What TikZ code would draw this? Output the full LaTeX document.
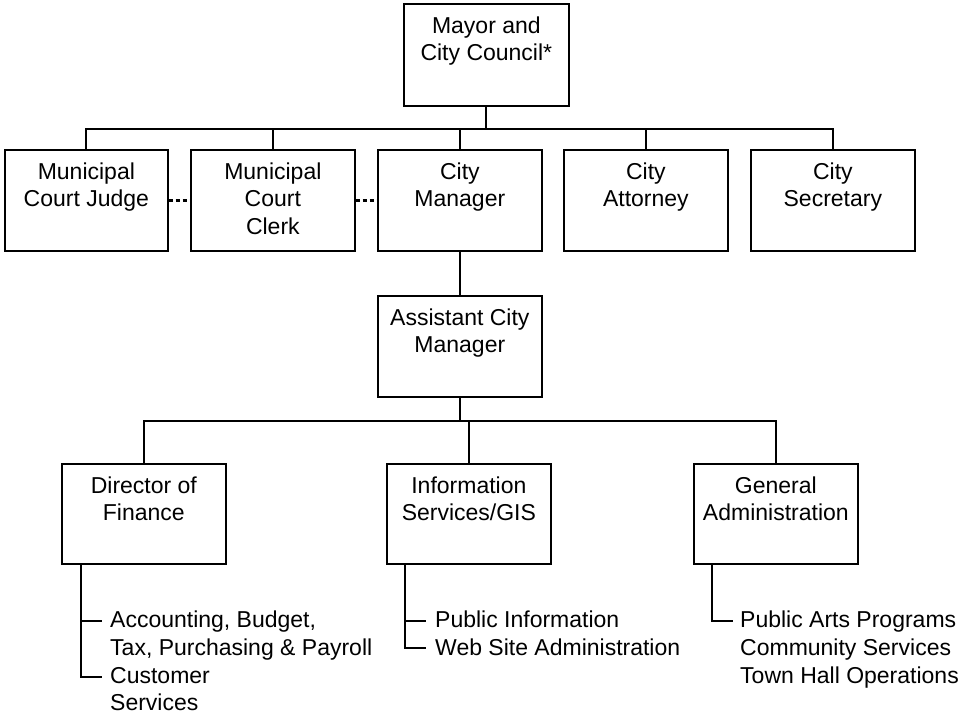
\documentclass[tikz,border=0pt]{standalone}
\usepackage{fontspec}
\setmainfont{Liberation Sans}
\usetikzlibrary{calc}
\begin{document}
\begin{tikzpicture}[x=1pt,y=-1pt,
  box/.style={draw, line width=1.7pt, anchor=north west, minimum width=164pt, minimum height=101pt, inner sep=0pt},
  lbl/.style={anchor=north, align=center, inner sep=0pt, font=\fontsize{23}{27.5}\selectfont, yshift=-10.75pt},
  lst/.style={anchor=north west, align=left, inner sep=0pt, font=\fontsize{23}{27.8}\selectfont},
  conn/.style={line width=1.8pt},
  dots/.style={line width=3.4pt, dash pattern=on 4.5pt off 2.5pt}]
\useasboundingbox (0,0) rectangle (961,715);

% boxes
\node[box, minimum width=165pt, minimum height=102pt] (mayor) at (403,3) {};
\node[box, minimum width=163pt] (judge) at (4,149) {};
\node[box] (clerk) at (190,149) {};
\node[box] (manager) at (377,149) {};
\node[box] (attorney) at (563,149) {};
\node[box] (secretary) at (750,149) {};
\node[box] (assistant) at (377,295) {};
\node[box, minimum height=100pt] (finance) at (61,463) {};
\node[box, minimum height=100pt] (info) at (386,463) {};
\node[box, minimum height=100pt] (general) at (693,463) {};

% labels
\node[lbl] (tmayor) at (mayor.north) {\strut Mayor and\\City Council*};
\node[lbl] (tjudge) at (judge.north) {\strut Municipal\\Court Judge};
\node[lbl] (tclerk) at (clerk.north) {\strut Municipal\\Court\\Clerk};
\node[lbl] (tmanager) at (manager.north) {\strut City\\Manager};
\node[lbl] (tattorney) at (attorney.north) {\strut City\\Attorney};
\node[lbl] (tsecretary) at (secretary.north) {\strut City\\Secretary};
\node[lbl] (tassistant) at (assistant.north) {\strut Assistant City\\Manager};
\node[lbl] (tfinance) at (finance.north) {\strut Director of\\Finance};
\node[lbl] (tinfo) at (info.north) {\strut Information\\Services/GIS};
\node[lbl] (tgeneral) at (general.north) {\strut General\\Administration};

% connectors level 1
\coordinate (bus1) at ($(mayor.south)+(0,22)$);
\draw[conn] (mayor.south) -- (bus1);
\draw[conn] (judge.north) |- (bus1) -| (secretary.north);
\draw[conn] (clerk.north) -- (clerk.north |- bus1);
\draw[conn] (manager.north) -- (manager.north |- bus1);
\draw[conn] (attorney.north) -- (attorney.north |- bus1);

% dotted links
\draw[dots] (judge.east) -- (clerk.west);
\draw[dots] (clerk.east) -- (manager.west);

% manager to assistant
\draw[conn] (manager.south) -- (assistant.north);

% level 3
\coordinate (bus2) at ($(assistant.south)+(0,23)$);
\draw[conn] (assistant.south) -- (bus2);
\draw[conn] (finance.north) |- (bus2) -| (general.north);
\draw[conn] (info.north) -- (info.north |- bus2);

% lists
\node[lst] (lfin1) at (110,607.8) {\strut Accounting, Budget,\\Tax, Purchasing \& Payroll};
\node[lst] (lfin2) at (110,663.4) {\strut Customer\\Services};
\node[lst] (linfo1) at (435,607.8) {\strut Public Information};
\node[lst] (linfo2) at (435,635.6) {\strut Web Site Administration};
\node[lst] (lgen) at (740,607.8) {\strut Public Arts Programs\\Community Services\\Town Hall Operations};

\coordinate (fa) at (102,621);
\coordinate (fb) at (102,677);
\coordinate (ia) at (426,621);
\coordinate (ib) at (426,648);
\coordinate (ga) at (733,621);

\draw[conn] (finance.south -| 81,0) |- (fb);
\draw[conn] (81,621) -- (fa);
\draw[conn] (info.south -| 405,0) |- (ib);
\draw[conn] (405,621) -- (ia);
\draw[conn] (general.south -| 712,0) |- (ga);
\end{tikzpicture}
\end{document}
